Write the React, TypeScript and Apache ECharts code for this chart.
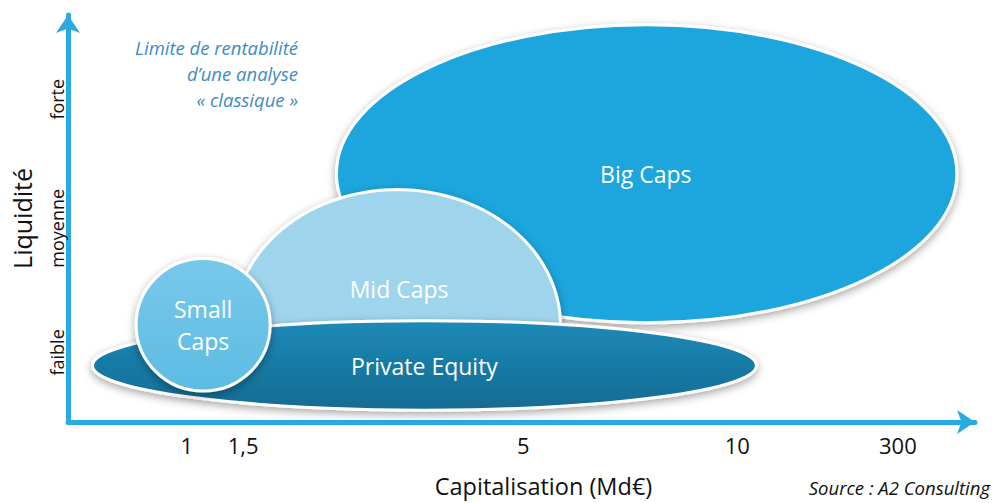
import React, { useEffect, useRef } from "react";
import * as echarts from "echarts";

// Shapes (axis units 0..100 on both axes)
const shapeNames = ["Big Caps", "Mid Caps", "Private Equity", "Small\nCaps"];
const centerX = [63.8, 36.3, 39.3, 14.9];
const centerY = [61.0, 23.7, 13.9, 23.9];
const radiusX = [34.2, 18.0, 36.6, 7.39];
const radiusY = [36.6, 33.4, 11.0, 16.3];
const halfShape = [false, true, false, false];
const labelX = [63.7, 36.5, 39.3, 14.9];
const labelY = [61.0, 32.7, 13.7, 23.9];

// Axis ticks
const xTickValues = [13.1, 19.3, 50.2, 73.8, 91.5];
const xTickLabels = ["1", "1,5", "5", "10", "300"];
const yTickValues = [17.1, 47.6, 79.3];
const yTickLabels = ["faible", "moyenne", "forte"];

const fills: any[] = [
  "#1ea6dd",
  "#9fd5ec",
  {
    type: "linear", x: 0, y: 0, x2: 0, y2: 1,
    colorStops: [
      { offset: 0, color: "#1d8ab8" },
      { offset: 1, color: "#136b92" },
    ],
  },
  {
    type: "linear", x: 0, y: 0, x2: 0, y2: 1,
    colorStops: [
      { offset: 0, color: "#78c9ea" },
      { offset: 1, color: "#5dbbe3" },
    ],
  },
];

const FONT = "'Open Sans', Lato, sans-serif";

export default function App() {
  const ref = useRef<HTMLDivElement>(null);
  useEffect(() => {
    if (!ref.current) return;
    const chart = echarts.init(ref.current, null, { renderer: "svg" });
    const data = shapeNames.map((n, i) => [centerX[i], centerY[i], radiusX[i], radiusY[i], labelX[i], labelY[i]]);
    const xLabelMap: Record<string, string> = {};
    xTickValues.forEach((v, i) => (xLabelMap[String(v)] = xTickLabels[i]));
    const yLabelMap: Record<string, string> = {};
    yTickValues.forEach((v, i) => (yLabelMap[String(v)] = yTickLabels[i]));
    const shapeStyle = (i: number) => ({
      fill: fills[i],
      stroke: "#ffffff",
      lineWidth: 3,
      shadowBlur: 8,
      shadowColor: "rgba(0,0,0,0.35)",
      shadowOffsetY: 3,
    });
    chart.setOption({
      animation: false,
      backgroundColor: "#ffffff",
      textStyle: { fontFamily: FONT },
      grid: { left: 68, top: 15, width: 907, height: 410, containLabel: false },
      xAxis: {
        type: "value",
        min: 0,
        max: 100,
        splitLine: { show: false },
        axisTick: { show: false },
        axisLine: {
          show: true,
          symbol: ["none", "arrow"],
          symbolSize: [18, 18],
          lineStyle: { color: "#29abe2", width: 5 },
        },
        axisLabel: {
          customValues: xTickValues,
          formatter: (v: number) => xLabelMap[String(v)] ?? "",
          color: "#111",
          fontSize: 22,
          margin: 12,
          fontFamily: FONT,
        },
        name: "Capitalisation (Md€)",
        nameLocation: "middle",
        nameGap: 52,
        nameTextStyle: { color: "#111", fontSize: 23.5, fontFamily: FONT, padding: [0, 0, 0, 44] },
      },
      yAxis: {
        type: "value",
        min: 0,
        max: 100,
        splitLine: { show: false },
        axisTick: { show: false },
        axisLine: {
          show: true,
          symbol: ["none", "arrow"],
          symbolSize: [18, 18],
          lineStyle: { color: "#29abe2", width: 5 },
        },
        axisLabel: {
          customValues: yTickValues,
          formatter: (v: number) => yLabelMap[String(v)] ?? "",
          color: "#111",
          fontSize: 18,
          rotate: 90,
          margin: 2,
          fontFamily: FONT,
        },
        name: "Liquidité",
        nameLocation: "middle",
        nameGap: 34,
        nameRotate: 90,
        nameTextStyle: { color: "#111", fontSize: 25, fontFamily: FONT },
      },
      series: [
        {
          type: "custom",
          coordinateSystem: "cartesian2d",
          clip: false,
          data,
          renderItem: (params: any, api: any) => {
            const i = params.dataIndex;
            const c = api.coord([api.value(0), api.value(1)]);
            const s = api.size([api.value(2), api.value(3)]);
            const l = api.coord([api.value(4), api.value(5)]);
            let shape: any;
            if (halfShape[i]) {
              const pts: number[][] = [];
              const n = 80;
              for (let k = 0; k <= n; k++) {
                const a = Math.PI - (Math.PI * k) / n;
                pts.push([c[0] + s[0] * Math.cos(a), c[1] - s[1] * Math.sin(a)]);
              }
              pts.push([c[0] + s[0], c[1] + 25]);
              pts.push([c[0] - s[0], c[1] + 25]);
              shape = { type: "polygon", shape: { points: pts }, style: shapeStyle(i) };
            } else {
              shape = {
                type: "ellipse",
                shape: { cx: c[0], cy: c[1], rx: s[0], ry: s[1] },
                style: shapeStyle(i),
              };
            }
            return {
              type: "group",
              children: [
                shape,
                {
                  type: "text",
                  x: l[0],
                  y: l[1],
                  style: {
                    text: shapeNames[i],
                    fill: "#ffffff",
                    fontSize: 23,
                    fontFamily: FONT,
                    align: "center",
                    verticalAlign: "middle",
                    lineHeight: 32,
                  },
                },
              ],
            };
          },
        },
      ],
      graphic: [
        {
          type: "text",
          x: 298,
          y: 34,
          style: {
            text: "Limite de rentabilité\nd’une analyse\n« classique »",
            fill: "#3d8cc4",
            fontSize: 18.5,
            fontStyle: "italic",
            fontFamily: FONT,
            align: "right",
            lineHeight: 26,
          },
        },
        {
          type: "text",
          x: 990,
          y: 478,
          style: {
            text: "Source : A2 Consulting",
            fill: "#111",
            fontSize: 18.5,
            fontStyle: "italic",
            fontFamily: FONT,
            align: "right",
          },
        },
      ],
    });
    return () => chart.dispose();
  }, []);
  return <div ref={ref} style={{ width: 994, height: 503, position: "absolute", left: 0, top: 0 }} />;
}
